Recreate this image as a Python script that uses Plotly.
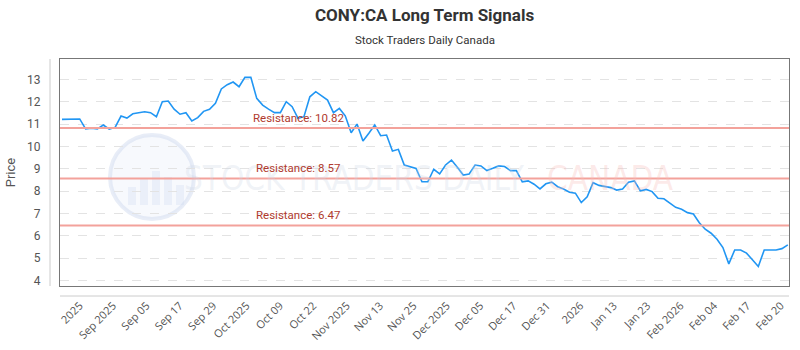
import numpy as np
import plotly.graph_objects as go

# ---- data ----
prices = [
    11.21, 11.22, 11.23, 11.23, 10.78, 10.82, 10.78, 10.96, 10.77, 10.85,
    11.36, 11.27, 11.46, 11.51, 11.55, 11.51, 11.33, 12.00, 12.03, 11.67,
    11.44, 11.51, 11.14, 11.29, 11.57, 11.66, 11.93, 12.57, 12.76, 12.88,
    12.67, 13.09, 13.09, 12.15, 11.85, 11.67, 11.51, 11.51, 12.00, 11.78,
    11.26, 11.33, 12.22, 12.45, 12.27, 12.07, 11.51, 11.70, 11.37, 10.61,
    11.00, 10.24, 10.59, 10.96, 10.48, 10.51, 9.80, 9.87, 9.17, 9.11,
    9.02, 8.42, 8.42, 8.98, 8.77, 9.17, 9.39, 9.07, 8.72, 8.77,
    9.17, 9.13, 8.92, 9.02, 9.13, 9.10, 8.92, 8.92, 8.42, 8.46,
    8.31, 8.10, 8.33, 8.40, 8.20, 8.10, 7.95, 7.91, 7.49, 7.75,
    8.38, 8.26, 8.20, 8.16, 8.05, 8.10, 8.40, 8.46, 8.02, 8.08,
    7.98, 7.68, 7.66, 7.46, 7.28, 7.19, 7.04, 6.98, 6.59, 6.30,
    6.12, 5.85, 5.48, 4.75, 5.37, 5.37, 5.23, 4.93, 4.63, 5.37,
    5.37, 5.37, 5.43, 5.60,
]
tick_labels = ["2025", "Sep 2025", "Sep 05", "Sep 17", "Sep 29", "Oct 2025",
               "Oct 09", "Oct 22", "Nov 2025", "Nov 13", "Nov 25", "Dec 2025",
               "Dec 05", "Dec 17", "Dec 31", "2026", "Jan 13", "Jan 23",
               "Feb 2026", "Feb 04", "Feb 17", "Feb 20"]
resistance_levels = [10.82, 8.57, 6.47]

x_idx = np.arange(len(prices))
tick_pos = np.linspace(3.0, 121.8, len(tick_labels))

PW, PH, L, T = 729, 227, 60, 59

def px(x):
    return (x - L) / PW

def py(y):
    return 1 - (y - T) / PH

fig = go.Figure()
fig.add_trace(go.Scatter(x=x_idx, y=prices, mode="lines",
                         line=dict(color="#2196f3", width=1.6),
                         hoverinfo="y", showlegend=False))

# watermark
fig.add_shape(type="circle", xref="paper", yref="paper",
              x0=px(110), x1=px(194), y0=py(219), y1=py(135),
              line=dict(color="rgba(205,216,238,0.45)", width=4),
              fillcolor="rgba(232,238,250,0.35)", layer="below")
for bx, bh in [(128, 18), (140, 26), (152, 34), (164, 28), (176, 20)]:
    fig.add_shape(type="rect", xref="paper", yref="paper",
                  x0=px(bx), x1=px(bx + 8), y0=py(205), y1=py(205 - bh),
                  line=dict(width=0), fillcolor="rgba(210,222,242,0.35)", layer="below")
fig.add_annotation(text="STOCK TRADERS DAILY", xref="paper", yref="paper",
                   x=px(527), y=py(178), showarrow=False, xanchor="right",
                   font=dict(family="DejaVu Sans Condensed, Roboto", size=33,
                             color="rgba(205,214,230,0.3)"))
fig.add_annotation(text="CANADA", xref="paper", yref="paper",
                   x=px(545), y=py(178), showarrow=False, xanchor="left",
                   font=dict(family="DejaVu Sans Condensed, Roboto", size=33,
                             color="rgba(248,190,185,0.32)"))

# resistance lines
for lvl in resistance_levels:
    fig.add_shape(type="line", xref="paper", yref="y", x0=0, x1=1, y0=lvl, y1=lvl,
                  line=dict(color="#f3a29b", width=2))
    fig.add_annotation(text=f"Resistance: {lvl:.2f}", xref="paper", yref="y",
                       x=px(298), y=lvl, xanchor="center", yanchor="bottom", yshift=1,
                       showarrow=False,
                       font=dict(family="Roboto", size=11.5, color="#b03a2e"))

# outer axis lines
fig.add_shape(type="line", xref="paper", yref="paper", x0=px(50), x1=px(50), y0=0, y1=1,
              line=dict(color="#cccccc", width=1))
fig.add_shape(type="line", xref="paper", yref="paper", x0=0, x1=1, y0=py(296), y1=py(296),
              line=dict(color="#cccccc", width=1))

# titles
fig.add_annotation(text="<b>CONY:CA Long Term Signals</b>", xref="paper", yref="paper",
                   x=0.5, y=py(15), xanchor="center", yanchor="middle", showarrow=False,
                   font=dict(family="Roboto", size=17, color="#333333"))
fig.add_annotation(text="Stock Traders Daily Canada", xref="paper", yref="paper",
                   x=0.5, y=py(40), xanchor="center", yanchor="middle", showarrow=False,
                   font=dict(family="Roboto", size=11.5, color="#333333"))

fig.update_layout(
    width=800, height=350,
    margin=dict(l=L, r=800 - L - PW, t=T, b=350 - T - PH),
    paper_bgcolor="white", plot_bgcolor="white",
    font=dict(family="Roboto", color="#555555"),
    xaxis=dict(range=[-0.34, 123.2], tickmode="array", tickvals=tick_pos, ticktext=tick_labels,
               tickangle=-45, showgrid=False, zeroline=False, showline=True, mirror=True,
               linecolor="#777777", linewidth=1, ticks="", ticklabelstandoff=8,
               automargin=False,
               tickfont=dict(family="Open Sans", size=11, color="#555555")),
    yaxis=dict(range=[3.76, 13.91], tickmode="array", tickvals=list(range(4, 14)),
               showgrid=True, gridcolor="#e3e3e3", griddash="dash", gridwidth=1,
               zeroline=False, showline=True, mirror=True, linecolor="#777777", linewidth=1,
               ticks="", ticklabelstandoff=16, automargin=False,
               tickfont=dict(family="Roboto", size=12, color="#555555"),
               title=dict(text="Price", standoff=8, font=dict(family="Roboto", size=13, color="#555555"))),
)

fig.write_html("out.html")
